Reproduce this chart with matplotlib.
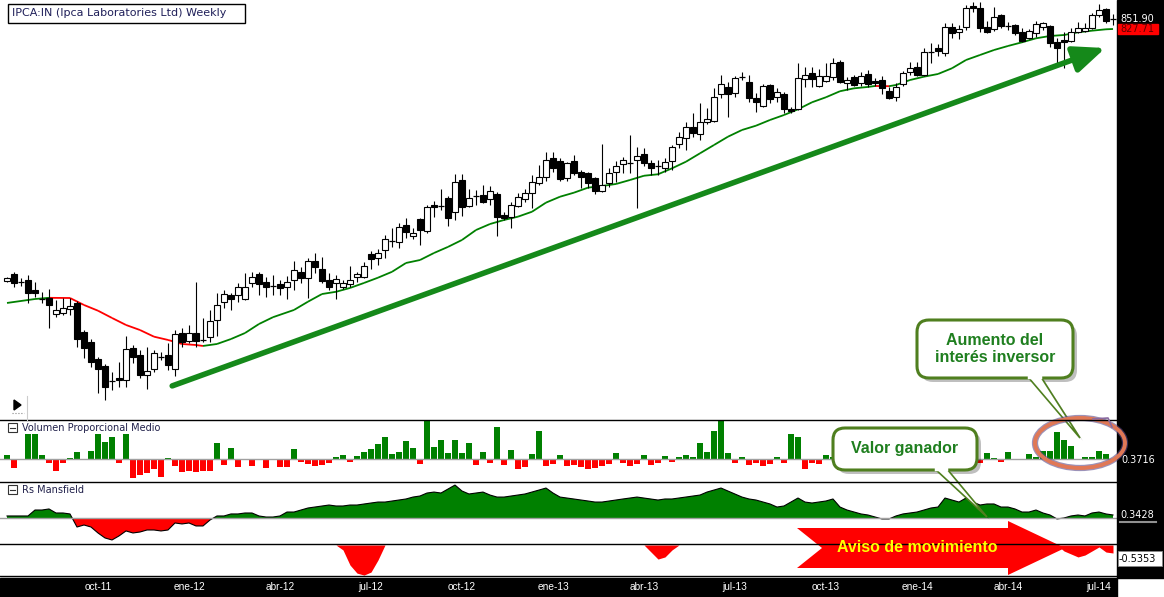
import numpy as np
import matplotlib
matplotlib.use("Agg")
import matplotlib.pyplot as plt
from matplotlib.collections import LineCollection
from matplotlib.patches import FancyBboxPatch, Ellipse, Polygon, Rectangle

W, H = 1164, 597
X_RIGHT = 1117  # right edge of the plotting area, pixels

# weekly candles, IPCA:IN, first week 2011-07-04
opens = [400.6, 408.7, 399.4, 401.7, 390.3, 380.3, 381.4, 364.2, 365.3, 369.5,
         376.0, 345.8, 336.0, 320.0, 313.6, 300.3, 303.0, 301.2, 330.3, 323.7,
         305.6, 310.9, 321.8, 323.7, 310.9, 344.8, 337.0, 344.8, 338.0, 340.9,
         358.0, 377.0, 384.7, 384.7, 380.3, 398.3, 408.7, 399.4, 394.8, 397.1,
         393.7, 401.7, 411.1, 404.0, 424.3, 414.6, 401.7, 398.3, 393.7, 397.1,
         405.2, 405.2, 433.0, 428.0, 438.0, 449.5, 448.2, 470.6, 456.0, 478.8,
         462.6, 498.5, 497.1, 508.7, 488.6, 535.8, 497.1, 511.6, 513.1, 507.3,
         514.6, 484.4, 481.6, 497.1, 507.3, 516.1, 531.2, 540.5, 570.8, 565.9,
         538.9, 565.9, 548.3, 546.7, 538.9, 519.1, 531.2, 548.3, 561.1, 562.7,
         567.6, 577.5, 562.7, 557.8, 554.6, 565.9, 594.3, 604.7, 624.2, 611.7,
         633.2, 635.1, 686.4, 700.3, 688.3, 720.8, 710.5, 678.5, 663.1, 704.4,
         680.5, 686.4, 657.4, 657.4, 716.7, 729.2, 702.3, 712.5, 720.8, 752.6,
         708.4, 720.8, 708.4, 727.1, 712.5, 714.6, 692.3, 680.5, 706.4, 731.3,
         741.9, 725.0, 774.6, 783.6, 772.4, 832.5, 820.6, 832.5, 884.3, 879.2,
         832.5, 827.7, 861.8, 834.9, 837.3, 820.6, 806.5, 818.2, 832.5, 834.9,
         797.3, 801.9, 799.6, 820.6, 822.9, 830.1, 861.8, 876.8, 851.0]
highs = [405.2, 411.1, 404.0, 407.5, 399.4, 388.1, 391.4, 379.2, 381.4, 381.4,
         378.1, 347.8, 338.9, 321.8, 315.4, 308.2, 317.2, 341.9, 333.1, 328.4,
         331.2, 328.4, 326.5, 335.0, 347.8, 349.8, 352.9, 399.4, 360.1, 368.5,
         386.9, 390.3, 386.9, 398.3, 409.9, 411.1, 411.1, 405.2, 407.5, 401.7,
         406.4, 424.3, 417.0, 428.0, 434.2, 429.2, 409.9, 407.5, 401.7, 418.2,
         411.1, 423.1, 436.7, 439.2, 457.3, 466.6, 473.4, 480.2, 466.6, 480.2,
         498.5, 504.3, 522.1, 511.6, 545.2, 545.2, 522.1, 520.6, 528.1, 526.6,
         517.6, 488.6, 502.9, 516.1, 522.1, 543.6, 559.4, 580.8, 580.8, 570.8,
         564.3, 575.8, 551.5, 548.3, 540.5, 594.3, 554.6, 565.9, 572.5, 610.0,
         589.2, 587.5, 567.6, 567.6, 570.8, 592.6, 615.3, 633.2, 649.9, 668.8,
         659.3, 698.3, 725.0, 710.5, 722.9, 731.3, 725.0, 688.3, 706.4, 706.4,
         698.3, 690.3, 661.2, 750.5, 741.9, 741.9, 737.6, 750.5, 761.4, 757.0,
         720.8, 725.0, 731.3, 735.5, 718.7, 722.9, 700.3, 708.4, 733.4, 752.6,
         752.6, 783.6, 795.0, 792.7, 842.2, 842.2, 837.3, 886.9, 894.6, 894.6,
         847.1, 881.8, 864.3, 844.6, 839.8, 830.1, 827.7, 847.1, 844.6, 837.3,
         806.5, 820.6, 830.1, 844.6, 842.2, 866.8, 889.5, 879.2, 864.3]
lows = [399.4, 393.7, 394.8, 376.0, 382.5, 376.0, 349.8, 361.1, 363.2, 363.2,
        331.2, 320.9, 312.7, 290.2, 284.3, 292.6, 295.2, 295.2, 316.3, 303.0,
        293.5, 308.2, 319.0, 310.0, 304.7, 331.2, 335.0, 331.2, 336.0, 336.0,
        341.9, 370.6, 368.5, 377.0, 379.2, 393.7, 384.7, 382.5, 384.7, 384.7,
        380.3, 390.3, 398.3, 381.4, 409.9, 398.3, 390.3, 380.3, 391.4, 393.7,
        399.4, 404.0, 414.6, 419.4, 428.0, 441.8, 440.5, 453.4, 452.1, 444.3,
        459.9, 481.6, 491.4, 469.3, 477.5, 483.0, 495.7, 498.5, 501.4, 498.5,
        456.0, 477.5, 466.6, 495.7, 502.9, 494.2, 528.1, 534.3, 548.3, 534.3,
        534.3, 543.6, 523.6, 523.6, 514.6, 517.6, 525.1, 532.7, 546.7, 546.7,
        494.2, 557.8, 543.6, 543.6, 548.3, 551.5, 587.5, 584.1, 606.5, 601.2,
        629.6, 633.2, 678.5, 642.4, 680.5, 714.6, 670.8, 651.7, 661.2, 668.8,
        670.8, 649.9, 649.9, 655.5, 700.3, 700.3, 700.3, 710.5, 714.6, 708.4,
        694.3, 702.3, 702.3, 700.3, 702.3, 686.4, 676.6, 672.7, 702.3, 725.0,
        722.9, 722.9, 750.5, 765.8, 765.8, 806.5, 804.2, 825.3, 869.3, 820.6,
        818.2, 822.9, 830.1, 825.3, 813.5, 797.3, 804.2, 808.9, 825.3, 785.9,
        750.5, 739.8, 797.3, 818.2, 820.6, 827.7, 856.9, 842.2, 837.3]
closes = [404.0, 398.3, 399.6, 386.9, 386.9, 380.0, 373.8, 368.5, 370.6, 372.7,
          338.9, 330.3, 317.2, 310.9, 295.2, 300.0, 301.2, 329.3, 321.8, 305.6,
          309.1, 325.5, 322.0, 314.5, 343.8, 336.0, 344.8, 337.0, 338.3, 357.0,
          373.8, 385.8, 380.3, 393.7, 393.7, 405.2, 397.1, 393.7, 395.0, 392.6,
          399.4, 413.4, 404.0, 424.3, 417.0, 400.6, 393.7, 402.9, 398.3, 401.7,
          408.7, 418.2, 426.8, 434.2, 452.1, 449.8, 467.9, 461.3, 459.9, 463.9,
          495.7, 495.7, 497.4, 480.2, 532.7, 495.7, 508.7, 511.9, 502.9, 519.1,
          481.6, 480.2, 498.5, 510.2, 516.1, 532.7, 540.5, 567.6, 554.6, 537.4,
          562.7, 546.7, 540.5, 531.2, 519.1, 528.1, 546.7, 557.8, 567.6, 563.0,
          574.1, 562.7, 554.6, 558.0, 564.3, 589.2, 606.5, 624.2, 613.5, 633.2,
          638.7, 680.5, 706.4, 686.4, 718.7, 721.0, 678.5, 670.8, 702.3, 676.6,
          690.3, 657.4, 653.6, 718.7, 725.0, 716.7, 722.9, 722.9, 750.5, 710.5,
          714.6, 704.4, 722.9, 706.4, 708.4, 698.3, 678.5, 700.3, 729.2, 739.8,
          725.0, 774.6, 774.9, 776.9, 832.5, 818.2, 827.7, 879.2, 879.2, 830.1,
          820.6, 856.9, 834.9, 835.2, 818.2, 799.6, 822.9, 839.8, 842.2, 795.0,
          783.6, 797.3, 820.6, 830.1, 830.1, 861.8, 874.3, 847.1, 851.9]

# moving average (week index, value)
ma_idx = [0, 4, 6, 9, 11, 13, 15, 17, 19, 21, 23, 25, 27, 28, 30, 32, 34, 36, 38, 41,
          43, 45, 47, 49, 51, 53, 55, 57, 59, 61, 63, 65, 67, 69, 71, 73, 75, 77, 79, 81,
          83, 85, 87, 89, 91, 93, 95, 97, 99, 101, 103, 105, 107, 109, 111, 113, 115, 117, 119, 121,
          123, 124, 126, 127, 129, 131, 133, 135, 137, 139, 141, 143, 145, 147, 149, 151, 153, 155, 157, 158]
ma_vals = [376.0, 380.3, 381.6, 381.4, 373.8, 367.7, 360.1, 352.9, 347.8, 341.2,
           338.0, 334.1, 333.1, 332.2, 334.1, 338.9, 344.8, 353.9, 360.9, 368.5,
           377.4, 385.8, 388.3, 392.6, 398.3, 404.4, 411.3, 421.9, 425.5, 434.2,
           441.9, 450.8, 463.9, 472.0, 477.5, 482.1, 489.0, 502.0, 510.6, 516.6,
           524.1, 526.6, 529.7, 535.8, 542.4, 544.7, 554.1, 564.8, 578.6, 592.6,
           607.0, 618.8, 626.5, 636.9, 646.1, 656.8, 670.2, 680.0, 691.9, 697.7,
           700.5, 702.4, 702.0, 704.4, 714.6, 721.5, 727.1, 739.2, 757.0, 768.0,
           779.1, 788.2, 796.6, 805.8, 811.2, 813.5, 819.9, 823.7, 827.0, 827.71]

volume = [0.30, -0.67, 0, 1.86, 1.86, 0.30, -0.30, -0.89, -0.30, 0.07,
          0.52, 0, 0.59, 1.86, 1.26, 1.63, -0.30, 1.86, -1.41, -1.19,
          -1.04, -0.74, -1.34, 0.07, -0.52, -0.97, -0.89, -0.97, -0.89, -0.89,
          1.19, -0.45, 0.82, -0.59, 0, -0.52, 0, -0.67, 0, -0.59,
          -0.59, 0.74, -0.22, -0.37, -0.52, -0.45, -0.30, 0.15, 0.30, -0.22,
          0.22, 0.52, 0.74, 1.11, 1.63, 0.37, 0.52, 1.34, 0.82, -0.37,
          2.82, 0.89, 1.41, 0.45, 1.41, 0.45, 1.19, -0.45, 0.52, -0.30,
          2.38, -0.45, 0.67, -0.74, -0.59, 0.37, 2.08, -0.52, -0.37, 0.30,
          -0.52, -0.45, -0.59, -0.74, -0.67, -0.52, -0.37, 0.45, -0.30, -0.52,
          -0.37, 0.30, -0.45, -0.30, 0.22, -0.22, 0.15, 0.30, 0.15, 1.19,
          0.52, 2.08, 2.82, 0.45, -0.30, 0.15, -0.45, -0.30, -0.52, -0.37,
          0.15, -0.30, 1.86, 1.63, -0.74, -0.30, -0.37, 0.30, 0.15, -0.82,
          0.22, -0.30, -0.67, 0.15, -0.67, 0.22, -0.30, 0.37, 0.15, 0.45,
          -0.30, 0.22, 0.52, -0.37, 0.30, 0.45, -0.22, 0.37, 0.15, -0.30,
          0.45, 0.07, -0.22, 0.52, 0, 0, 0.37, 0.15, 0.59, 0.59,
          2.01, 1.41, 0.97, 0, 0.15, 0.15, 0.59, 0.3716, 0]

rs_mansfield = [0.23, 0.23, 0.23, 0.23, 0.91, 0.91, 1.03, 0.57, 0.57, 0.46,
                -1.03, -0.80, -1.03, -1.71, -2.28, -2.51, -2.05, -1.48, -1.71, -1.60,
                -1.37, -1.37, -1.48, -1.37, -0.57, -0.68, -0.57, -0.91, -0.91, -0.23,
                0.23, 0.23, 0.46, 0.46, 0.57, 0.57, 0.23, 0.11, 0.11, 0.23,
                0.68, 0.68, 0.91, 1.14, 1.25, 1.37, 1.48, 1.37, 1.37, 1.48,
                1.48, 1.60, 1.71, 1.82, 1.82, 1.94, 2.05, 2.17, 2.39, 2.51,
                2.85, 2.96, 2.85, 3.31, 3.76, 3.08, 2.74, 2.85, 2.96, 2.62,
                2.39, 2.39, 2.51, 2.62, 2.74, 2.96, 3.19, 3.42, 2.85, 2.39,
                2.28, 2.17, 2.05, 1.94, 1.82, 1.82, 1.94, 2.05, 2.17, 2.28,
                2.39, 2.28, 2.17, 2.05, 2.17, 2.17, 2.28, 2.39, 2.51, 2.62,
                2.96, 3.19, 3.42, 3.08, 2.74, 2.39, 2.17, 2.05, 1.82, 1.60,
                1.25, 1.37, 1.82, 2.28, 1.82, 1.71, 1.82, 1.94, 2.17, 1.25,
                0.91, 0.68, 0.46, 0.34, 0.11, -0.11, -0.11, 0.23, 0.46, 0.57,
                0.68, 0.91, 1.14, 1.25, 2.28, 2.05, 1.82, 2.28, 1.82, 1.48,
                1.60, 1.60, 1.25, 1.25, 1.03, 0.68, 0.68, 0.91, 0.57, 0.34,
                -0.11, 0, 0.23, 0.34, 0.23, 0.57, 0.68, 0.46, 0.3428]

third_ind = [0] * 48 + [-0.33, -1.34, -1.88, -2.01, -1.81, -1.00] + [0] * 38 + \
            [-0.47, -0.94, -0.80, -0.33] + [0] * 55 + \
            [-0.40, -0.60, -0.80, -0.67, -0.40, -0.13, -0.47, -0.5353]

tick_idx = [13, 26, 39, 52, 65, 78, 91, 104, 117, 130, 143, 156]
tick_labels = ['oct-11', 'ene-12', 'abr-12', 'jul-12', 'oct-12', 'ene-13',
               'abr-13', 'jul-13', 'oct-13', 'ene-14', 'abr-14', 'jul-14']

GREEN = '#008000'
RED = '#ff0000'
x = np.arange(len(closes))
XLIM = (-1, (X_RIGHT - 7) / 7)

fig = plt.figure(figsize=(W / 100, H / 100), dpi=100)
fig.patch.set_facecolor('white')


def panel(top, bottom):
    a = fig.add_axes([0, (H - bottom) / H, X_RIGHT / W, (bottom - top) / H])
    a.set_xlim(*XLIM)
    a.axis('off')
    return a


# ---- price panel
ax = panel(0, 420)
ax.set_yscale('log')
ax.set_ylim(268.4, 899.8)
o, c, hi, lo = map(np.array, (opens, closes, highs, lows))
ax.vlines(x, lo, hi, color='black', lw=0.8, zorder=2)
doji = np.abs(c - o) / o < 0.002
up = (c >= o) & ~doji
dn = (c < o) & ~doji
bw = 0.72
ax.bar(x[up], (c - o)[up], bottom=o[up], width=bw, facecolor='white',
       edgecolor='black', lw=0.8, zorder=3)
ax.bar(x[dn], (o - c)[dn], bottom=c[dn], width=bw, facecolor='black',
       edgecolor='black', lw=0.8, zorder=3)
ax.hlines(c[doji], x[doji] - bw / 2, x[doji] + bw / 2, color='black', lw=0.9, zorder=3)

pts = np.column_stack([ma_idx, ma_vals])
segs = np.stack([pts[:-1], pts[1:]], axis=1)
seg_cols = [RED if b < a else GREEN for a, b in zip(ma_vals[:-1], ma_vals[1:])]
ax.add_collection(LineCollection(segs, colors=seg_cols, lw=1.3, zorder=1))

# trend arrow
ax.annotate('', xy=(156.9, 783.6), xytext=(23.6, 296.1),
            arrowprops=dict(arrowstyle='-|>,head_length=1.9,head_width=0.8',
                            lw=4.0, color='#15891a', shrinkA=0, shrinkB=0,
                            mutation_scale=10), zorder=4)

# ---- volume panel
axv = panel(420, 482)
axv.set_ylim(-1.709, 2.898)
vol = np.array(volume)
axv.bar(x, vol, width=0.72, color=[GREEN if v >= 0 else RED for v in vol], lw=0)
axv.axhline(0, color='#a0a0a0', lw=1)

# ---- Rs Mansfield panel
axr = panel(482, 544)
axr.set_ylim(-2.97, 4.11)
rs = np.array(rs_mansfield)
axr.fill_between(x, rs, 0, where=rs >= 0, interpolate=True, color=GREEN, lw=0)
axr.fill_between(x, rs, 0, where=rs <= 0, interpolate=True, color=RED, lw=0)
axr.plot(x, rs, color='black', lw=0.8)
axr.axhline(0, color='#a0a0a0', lw=1)

# ---- third panel
axt = panel(544, 577)
axt.set_ylim(-2.14, 0.067)
axt.fill_between(x, third_ind, 0, color=RED, lw=0)

# ---- overlay in pixel coordinates
ov = fig.add_axes([0, 0, 1, 1], zorder=10)
ov.set_xlim(0, W)
ov.set_ylim(H, 0)
ov.axis('off')
ov.patch.set_alpha(0)

for yy in (420, 482, 544):
    ov.plot([0, X_RIGHT], [yy, yy], color='black', lw=1)
ov.add_patch(Rectangle((X_RIGHT, 0), W - X_RIGHT, 578, color='black'))
ov.add_patch(Rectangle((0, 578), X_RIGHT, H - 578, color='black'))
ov.plot([0, X_RIGHT], [575.5, 575.5], color='black', lw=1)
for i, lab in zip(tick_idx, tick_labels):
    ov.text(7 + 7 * i, 587.5, lab, color='white', fontsize=7.3, ha='center',
            va='center', family='Liberation Sans')

# title
ov.add_patch(Rectangle((8, 4), 237, 19, facecolor='white', edgecolor='black', lw=1))
ov.text(12, 13.5, 'IPCA:IN (Ipca Laboratories Ltd) Weekly', fontsize=8,
        color='#20205a', va='center', ha='left')

# panel headers
for yy, lab in ((423, 'Volumen Proporcional Medio'), (485, 'Rs Mansfield')):
    ov.add_patch(Rectangle((8, yy), 9, 9, facecolor='white', edgecolor='#333333', lw=0.8))
    ov.plot([10, 15], [yy + 4.5, yy + 4.5], color='#333333', lw=0.8)
    ov.text(22, yy + 5, lab, fontsize=7, color='#20204a', va='center', ha='left')

ov.add_patch(Polygon([(14, 400), (14, 410), (21, 405)], color='black'))
ov.plot([12, 24], [413, 413], color='#888888', lw=0.8, ls=':')
ov.plot([26.5, 26.5], [396, 420], color='#cccccc', lw=0.8)

# right-hand value labels
ov.text(1120, 19, '851.90', color='white', fontsize=7, va='center', ha='left')
ov.add_patch(Rectangle((1118, 24), 40, 10, color='#ff0000'))
ov.text(1120, 29.5, '827.71', color='#600000', fontsize=7, va='center', ha='left')
ov.text(1121, 460, '0.3716', color='white', fontsize=7, va='center', ha='left')
ov.text(1120, 515, '0.3428', color='white', fontsize=7, va='center', ha='left')
ov.plot([1120, 1156], [522, 522], color='#909090', lw=1.5)
ov.add_patch(Rectangle((1118, 551), 44, 15, facecolor='white', edgecolor='#888888', lw=0.6))
ov.text(1119, 558.5, '-0.5353', color='black', fontsize=7, va='center', ha='left')

# "Aviso de movimiento" arrow
ov.add_patch(Polygon([(797, 528), (1008, 528), (1008, 521), (1065, 548), (1008, 575),
                      (1008, 568), (797, 568), (822, 548)], color='#ff0000', lw=0))
ov.text(917, 548, 'Aviso de movimiento', color='#ffff00', fontsize=11.5,
        fontweight='bold', ha='center', va='center', family='Liberation Sans')


def callout(x0, y0, w, h, tail, text, cy):
    ov.add_patch(FancyBboxPatch((x0 + 4, y0 + 4), w, h, boxstyle='round,pad=0,rounding_size=12',
                                facecolor='#000000', alpha=0.25, lw=0))
    ov.add_patch(Polygon([(px + 3, py + 3) for px, py in tail], facecolor='#000000',
                         alpha=0.2, lw=0))
    ov.add_patch(FancyBboxPatch((x0, y0), w, h, boxstyle='round,pad=0,rounding_size=12',
                                facecolor='white', edgecolor='#4f7f1f', lw=2.2))
    ov.add_patch(Polygon(tail, closed=False, facecolor='white', edgecolor='#4f7f1f', lw=1.2))
    ov.plot([tail[0][0] + 1, tail[-1][0] - 1], [y0 + h - 1, y0 + h - 1], color='white', lw=2.5)
    ov.text(x0 + w / 2, cy, text, color='#1f7f1f', fontsize=11.5, fontweight='bold',
            ha='center', va='center', family='Liberation Sans', linespacing=1.2)


callout(917, 320, 156, 58, [(1028, 377), (1080, 438), (1041, 377)],
        'Aumento del\ninterés inversor', 349)
callout(833, 428, 144, 42, [(935, 469), (987, 517), (947, 469)], 'Valor ganador', 448)

# highlight ring
ov.add_patch(Ellipse((1080, 443), 90, 50, fill=False, edgecolor='#5a4a8a', lw=4.5, alpha=0.6))
ov.add_patch(Ellipse((1080, 443), 90, 50, fill=False, edgecolor='#e07856', lw=2.8))
ov.plot([1093, 1108, 1112], [419, 418, 427], color='#8a6aa0', lw=1.2)

fig.savefig('out.png', dpi=100)
